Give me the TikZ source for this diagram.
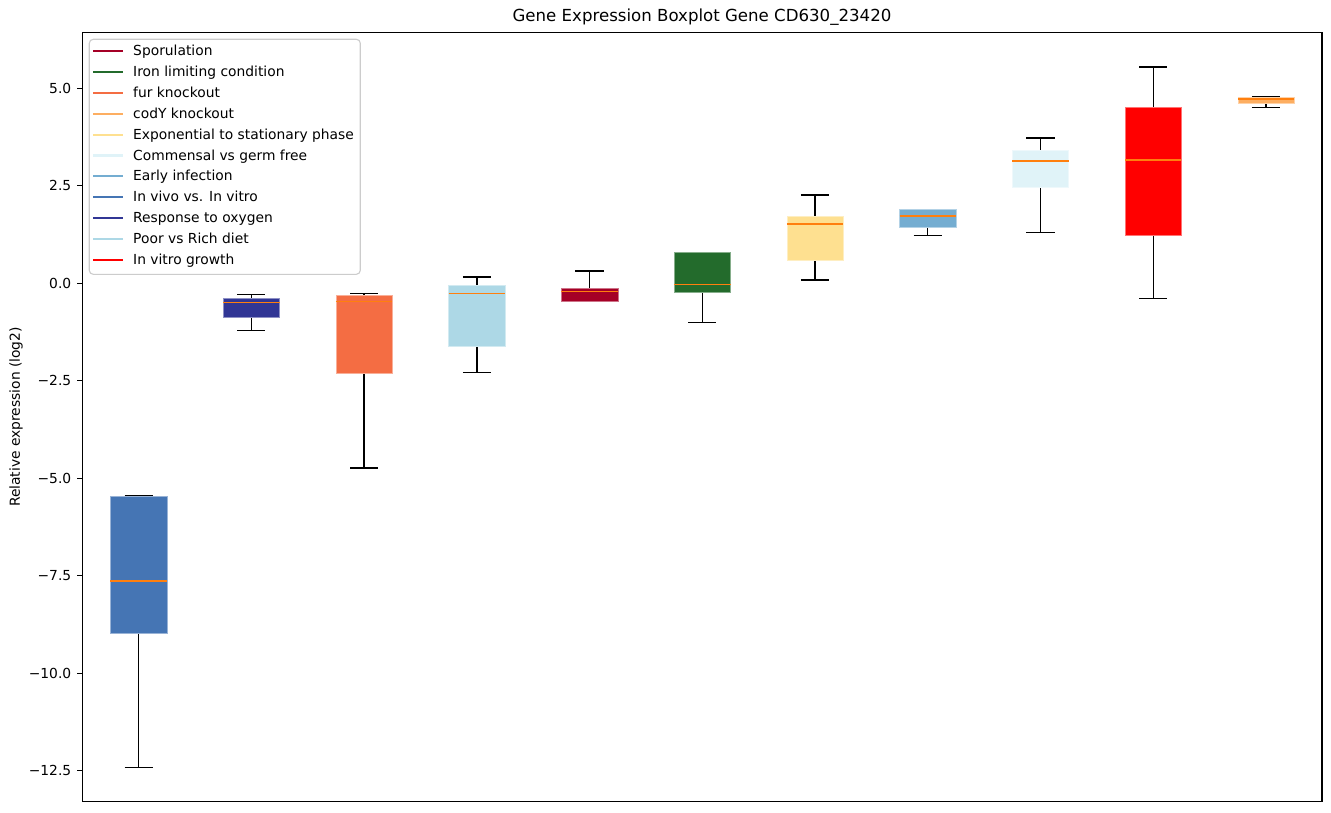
\documentclass[tikz,border=0pt]{standalone}
\usepackage{fontspec}
\setmainfont{DejaVu Sans}
\usetikzlibrary{positioning}
\definecolor{sporul}{HTML}{A50026}
\definecolor{ironlim}{HTML}{236B2C}
\definecolor{furko}{HTML}{F46D43}
\definecolor{codyko}{HTML}{FDAE61}
\definecolor{expstat}{HTML}{FEE090}
\definecolor{commensal}{HTML}{E0F3F8}
\definecolor{earlyinf}{HTML}{74ADD1}
\definecolor{invivo}{HTML}{4575B4}
\definecolor{oxygen}{HTML}{313695}
\definecolor{poorrich}{HTML}{ADD8E6}
\definecolor{vitrogrowth}{HTML}{FF0000}
\definecolor{medorange}{HTML}{FF7F0E}
\definecolor{legedge}{gray}{0.8}
\tikzset{
  whisk/.style={line width=1bp, black},
  medline/.style={line width=1bp, medorange},
  labfont/.style={inner sep=0pt, font=\fontsize{10}{12}\selectfont},
  legtext/.style={labfont, text height=1.55ex, text depth=0.35ex},
}

\begin{document}
\begin{tikzpicture}[x=0.254mm, y=-0.254mm]
    \useasboundingbox (0,0) rectangle (1331,812);

    % boxes: position / whisker low / q1 / median / q3 / whisker high / colour
    \foreach \i/\wlo/\qa/\md/\qb/\whi/\col in {
        1/-12.41/-8.97/-7.63/-5.45/-5.45/invivo,
        2/-1.205/-0.864/-0.487/-0.377/-0.282/oxygen,
        3/-4.74/-2.30/-0.46/-0.317/-0.256/furko,
        4/-2.28/-1.625/-0.256/-0.04/0.16/poorrich,
        5/-0.454/-0.454/-0.205/-0.12/0.315/sporul,
        6/-1.0/-0.22/-0.03/0.785/0.785/ironlim,
        7/0.085/0.58/1.52/1.73/2.26/expstat,
        8/1.23/1.44/1.73/1.89/1.89/earlyinf,
        9/1.31/2.47/3.14/3.42/3.73/commensal,
        10/-0.385/1.22/3.16/4.52/5.55/vitrogrowth,
        11/4.51/4.61/4.73/4.76/4.78/codyko} {
        \pgfmathsetmacro\xc{82.3+(\i-0.5)*112.73}
        \pgfmathsetmacro\ywlo{283.3-39*\wlo}
        \pgfmathsetmacro\yqa{283.3-39*\qa}
        \pgfmathsetmacro\ymd{283.3-39*\md}
        \pgfmathsetmacro\yqb{283.3-39*\qb}
        \pgfmathsetmacro\ywhi{283.3-39*\whi}
        \draw[whisk] (\xc,\ywlo) -- (\xc,\yqa);
        \draw[whisk] (\xc,\yqb) -- (\xc,\ywhi);
        \draw[whisk] (\xc-14.1,\ywlo) -- (\xc+14.1,\ywlo);
        \draw[whisk] (\xc-14.1,\ywhi) -- (\xc+14.1,\ywhi);
        \filldraw[fill=\col, draw=\col!55!white, line width=0.4bp] (\xc-28.2,\yqa) rectangle (\xc+28.2,\yqb);
        \draw[medline] (\xc-28.2,\ymd) -- (\xc+28.2,\ymd);
    }

    % axes frame and ticks
    \draw[line width=0.8bp] (82.3,32.3) rectangle (1322,801.7);
    \foreach \v/\lab [count=\n] in {5/5.0, 2.5/2.5, 0/0.0, -2.5/−2.5, -5/−5.0, -7.5/−7.5, -10/−10.0, -12.5/−12.5} {
        \pgfmathsetmacro\yv{283.3-39*\v}
        \draw[line width=0.8bp] (82.3,\yv) -- (77.4,\yv);
        \node[labfont, anchor=east] (ytick\n) at (71.5,\yv) {\lab};
    }
    \node[labfont, rotate=90] (ylabel) at (16,417) {Relative expression (log2)};
    \node[inner sep=0pt, font=\fontsize{12}{14}\selectfont] (title) at (702,17) {Gene Expression Boxplot Gene CD630\_23420};

    % legend
    \filldraw[draw=legedge, fill=white, fill opacity=0.8, line width=0.8bp, rounded corners=1mm] (89.3,39.3) rectangle (360.3,274.3);
    \foreach \lab/\col [count=\k from 0] in {
        Sporulation/sporul,
        Iron limiting condition/ironlim,
        fur knockout/furko,
        codY knockout/codyko,
        Exponential to stationary phase/expstat,
        Commensal vs germ free/commensal,
        Early infection/earlyinf,
        In vivo vs. In vitro/invivo,
        Response to oxygen/oxygen,
        Poor vs Rich diet/poorrich,
        In vitro growth/vitrogrowth} {
        \pgfmathsetmacro\yy{51+20.9*\k}
        \coordinate (hs\k) at (93,\yy);
        \coordinate (he\k) at (122.7,\yy);
        \draw[\col, line width=1.5bp] (hs\k) -- (he\k);
        \node[legtext, right=2.6mm of he\k] (leg\k) {\lab};
    }
\end{tikzpicture}
\end{document}
